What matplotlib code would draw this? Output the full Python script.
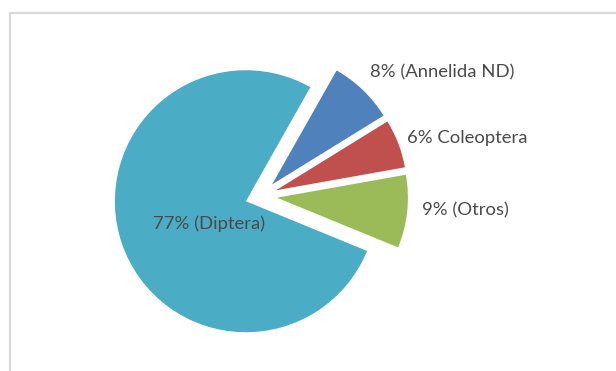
import matplotlib.pyplot as plt
from matplotlib.lines import Line2D

# slice values (percent) and their names, in drawing order (clockwise)
values = [8, 6, 9, 77]
names = ["(Annelida ND)", "Coleoptera", "(Otros)", "(Diptera)"]
colors = ["#4F81BD", "#C0504D", "#9BBB59", "#4BACC6"]

W, H = 616, 371
center = (261, H - 196)
radius = 131
# pie offsets are in data units here (pixels)
explode = [16, 16, 16, 16]
label_pos = [(442, 72), (467, 138), (465, 210), (209, 224)]

fig = plt.figure(figsize=(W / 100, H / 100), dpi=100)
ax = fig.add_axes([0, 0, 1, 1])

ax.pie(
    values,
    colors=colors,
    explode=explode,
    radius=radius,
    center=center,
    startangle=60.5,
    counterclock=False,
    wedgeprops={"linewidth": 0},
)
ax.set_xlim(0, W)
ax.set_ylim(0, H)
ax.set_aspect("auto")
ax.axis("off")

for v, name, (x, y) in zip(values, names, label_pos):
    ax.text(x, H - y, f"{v}% {name}", ha="center", va="center",
            fontsize=13.3, family="Lato", color="#4a4a4a")

# chart area border (top and left edges visible)
ax.add_line(Line2D([10, 10, W + 5], [-5, H - 13, H - 13], color="#d9d9d9",
                   linewidth=1.6, clip_on=False))

fig.savefig("out.png", dpi=100)
